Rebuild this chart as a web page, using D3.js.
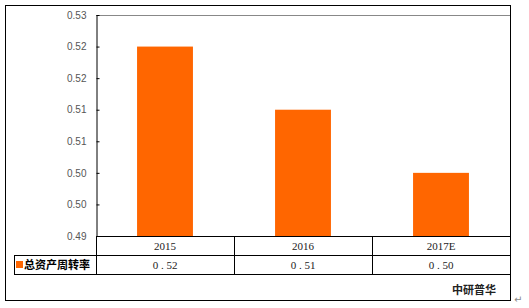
<!DOCTYPE html>
<html><head><meta charset="utf-8">
<script src="https://cdn.jsdelivr.net/npm/d3@7/dist/d3.min.js"></script>
<style>body{margin:0;background:#fff}svg{display:block}</style>
</head><body>
<script>
const categories = ["2015", "2016", "2017E"];
const values = [0.525, 0.515, 0.505];
const valueLabels = ["0 . 52", "0 . 51", "0 . 50"];
const seriesName = "总资产周转率";
const tickValues = [0.53, 0.525, 0.52, 0.515, 0.51, 0.505, 0.50, 0.495];
const tickLabels = ["0.53", "0.52", "0.52", "0.51", "0.51", "0.50", "0.50", "0.49"];
const source = "中研普华";

const W = 529, H = 308;
const svg = d3.select("body").append("svg").attr("width", W).attr("height", H);
const L = 96, R = 510, T = 15, B = 236;
const y = d3.scaleLinear().domain([0.495, 0.53]).range([B, T]);
const x = d3.scaleBand().domain(categories).range([L, R]).padding(0);

// outer border
svg.append("rect").attr("x", 5.5).attr("y", 5.5).attr("width", 505).attr("height", 295)
  .attr("fill", "none").attr("stroke", "#000").attr("stroke-width", 1);

// top gray plot line
svg.append("line").attr("x1", L).attr("x2", R).attr("y1", T + 0.5).attr("y2", T + 0.5)
  .attr("stroke", "#888").attr("stroke-width", 1);

// bars
const bw = x.bandwidth() * 0.405;
svg.selectAll("rect.bar").data(values).enter().append("rect")
  .attr("class", "bar")
  .attr("x", (d, i) => x(categories[i]) + (x.bandwidth() - bw) / 2)
  .attr("y", d => y(d))
  .attr("width", bw)
  .attr("height", d => B - y(d))
  .attr("fill", "#FF6600");

// y axis
const yAxis = d3.axisLeft(y).tickValues(tickValues)
  .tickFormat((d, i) => tickLabels[i]).tickSizeInner(-3).tickSizeOuter(0).tickPadding(10);
const gy = svg.append("g").attr("transform", `translate(${L + 0.5},0)`).call(yAxis);
gy.select(".domain").attr("stroke", "#000");
gy.selectAll(".tick line").attr("stroke", "#000");
gy.selectAll("text").attr("font-family", "Arial, 'Liberation Sans', sans-serif")
  .attr("font-size", 10).attr("fill", "#555");

// bottom axis line
svg.append("line").attr("x1", L).attr("x2", R).attr("y1", B + 0.5).attr("y2", B + 0.5)
  .attr("stroke", "#000");

// data table
const r1 = B, r2 = 255, r3 = 274;
const tbl = svg.append("g").attr("stroke", "#000").attr("stroke-width", 1);
tbl.append("line").attr("x1", 14).attr("x2", R).attr("y1", r2 + 0.5).attr("y2", r2 + 0.5);
tbl.append("line").attr("x1", 14).attr("x2", R).attr("y1", r3 + 0.5).attr("y2", r3 + 0.5);
tbl.append("line").attr("x1", 14.5).attr("x2", 14.5).attr("y1", r2).attr("y2", r3 + 1);
const cols = [L].concat(categories.map(c => x(c) + x.bandwidth()));
cols.forEach(cx => {
  tbl.append("line").attr("x1", Math.round(cx) + 0.5).attr("x2", Math.round(cx) + 0.5)
    .attr("y1", r1).attr("y2", r3 + 1);
});

svg.selectAll("text.cat").data(categories).enter().append("text")
  .attr("class", "cat")
  .attr("x", d => x(d) + x.bandwidth() / 2).attr("y", (r1 + r2) / 2 + 4)
  .attr("text-anchor", "middle").attr("font-family", "'Liberation Serif', serif")
  .attr("font-size", 11).attr("fill", "#222").text(d => d);

svg.selectAll("text.val").data(valueLabels).enter().append("text")
  .attr("class", "val")
  .attr("x", (d, i) => x(categories[i]) + x.bandwidth() / 2).attr("y", (r2 + r3) / 2 + 4)
  .attr("text-anchor", "middle").attr("font-family", "'Liberation Serif', serif")
  .attr("font-size", 11).attr("fill", "#222").attr("xml:space", "preserve")
  .style("white-space", "pre").text(d => d);

// legend key in table
svg.append("rect").attr("x", 16).attr("y", 261).attr("width", 7).attr("height", 7).attr("fill", "#FF6600");
svg.append("text").attr("x", 24).attr("y", 269)
  .attr("font-family", "'Noto Sans CJK SC', sans-serif").attr("font-weight", "bold")
  .attr("font-size", 11).attr("fill", "#000").text(seriesName);

// source
svg.append("text").attr("x", 496).attr("y", 294).attr("text-anchor", "end")
  .attr("font-family", "'Noto Sans CJK SC', sans-serif").attr("font-weight", "bold")
  .attr("font-size", 11).attr("fill", "#222").text(source);

// paragraph mark
svg.append("text").attr("x", 514).attr("y", 303).attr("font-family", "'DejaVu Sans', sans-serif")
  .attr("font-size", 10).attr("fill", "#888").text("↵");
</script>
</body></html>
